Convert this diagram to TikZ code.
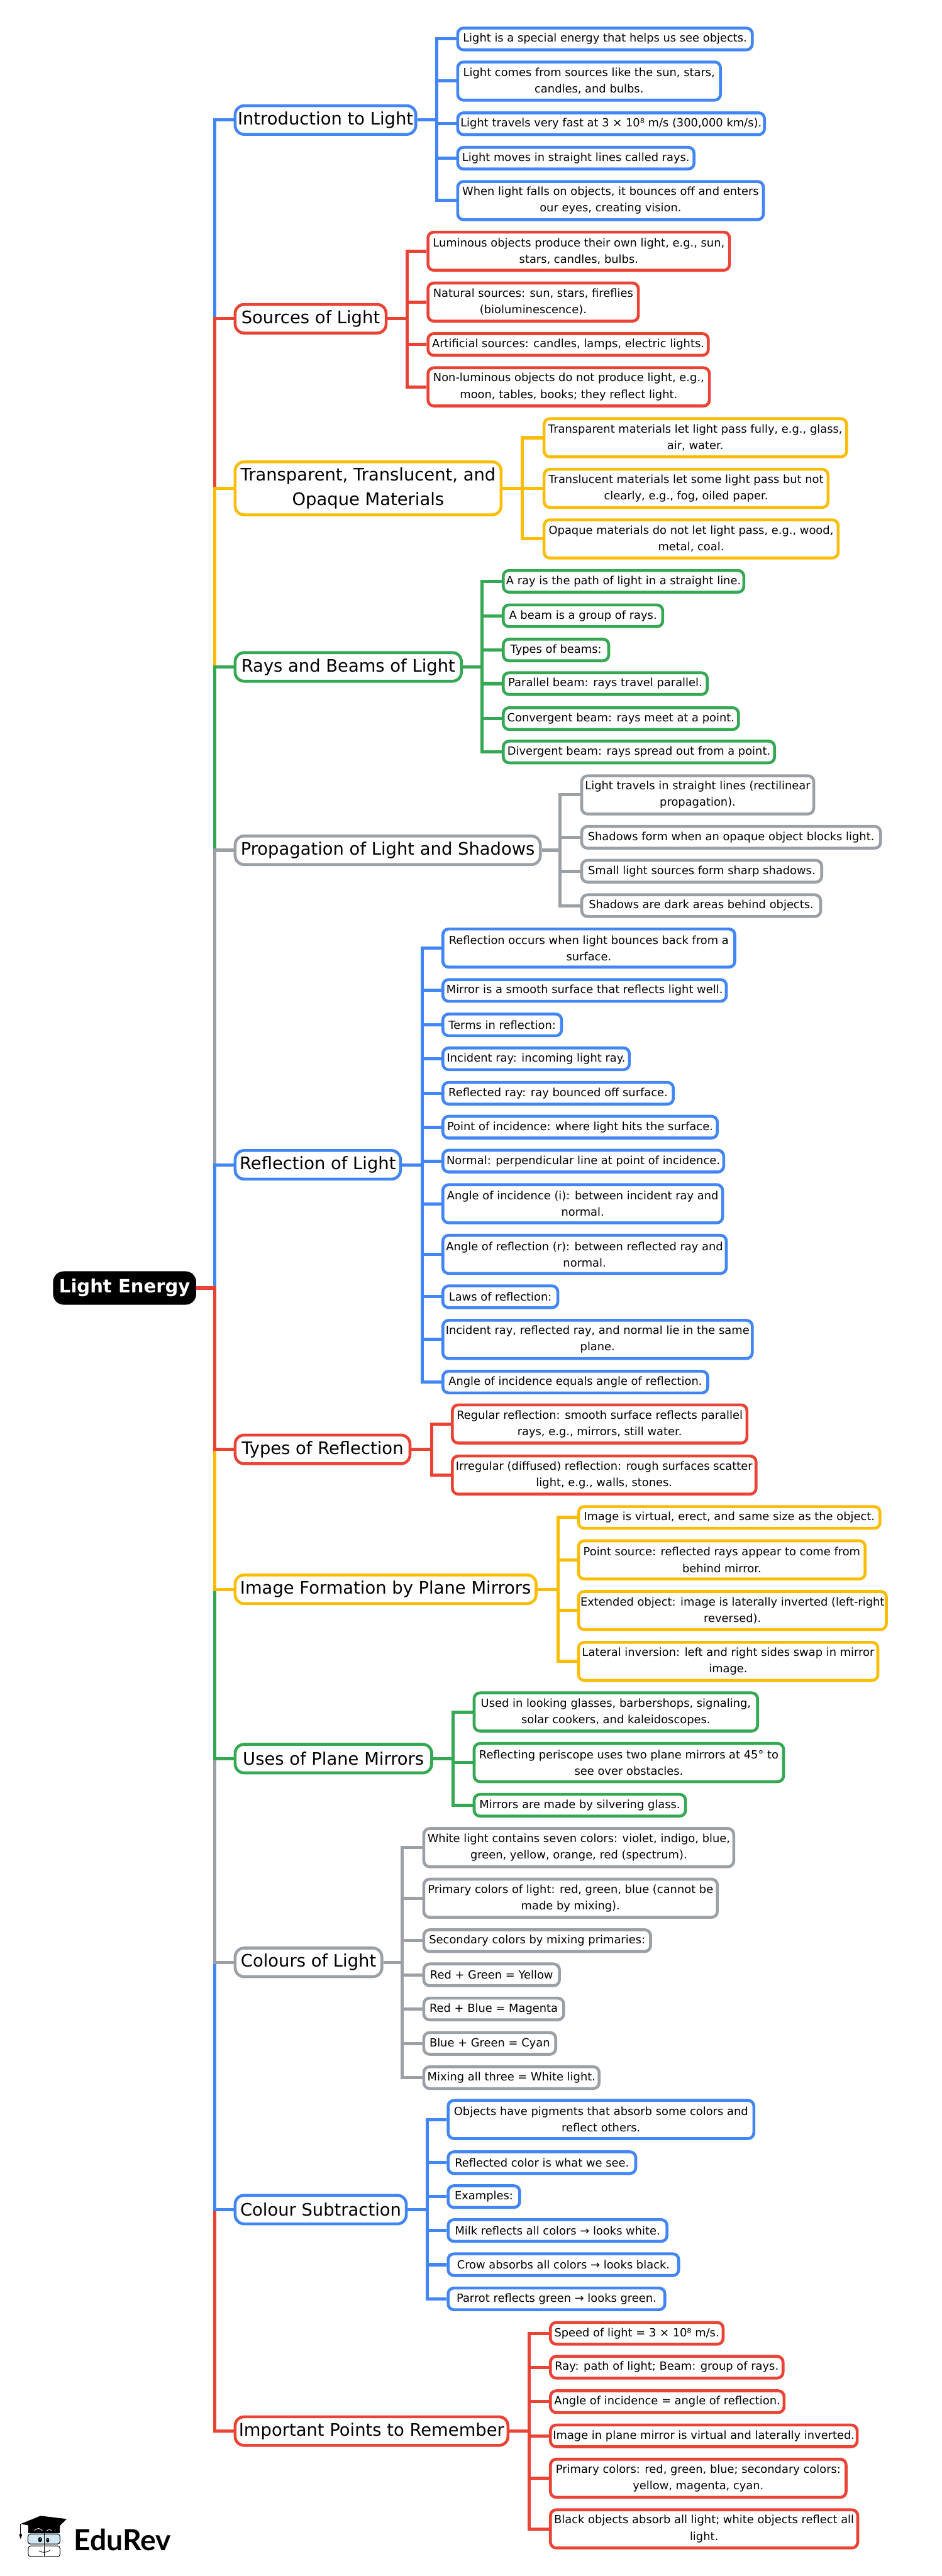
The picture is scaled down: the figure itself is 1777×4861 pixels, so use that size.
\documentclass[tikz,border=0pt]{standalone}
\usepackage{fontspec}
\setmainfont{DejaVu Sans}
\newfontfamily\logofont{Lato}
\usepackage{xcolor}
\usepackage{tikz}
\definecolor{ruleblue}{HTML}{4285F4}
\definecolor{rulered}{HTML}{EA4335}
\definecolor{ruleyellow}{HTML}{FBBC04}
\definecolor{rulegreen}{HTML}{34A853}
\definecolor{rulegray}{HTML}{9AA0A6}
\definecolor{glassblue}{HTML}{CFE6F5}
\newcommand{\leaffont}{\fontsize{21.2}{31}\selectfont}
\newcommand{\branchfont}{\fontsize{32.5}{46.5}\selectfont}
\tikzset{
  leaf/.style={rectangle, anchor=west, draw=#1, fill=white, text=black, line width=5.5pt,
    rounded corners=11pt, inner sep=0pt, align=center, font=\leaffont, minimum height=41pt},
  tall/.style={minimum height=72pt},
  branch/.style={rectangle, anchor=west, draw=#1, fill=white, text=black, line width=5.5pt,
    rounded corners=17pt, inner sep=0pt, align=center, font=\branchfont, minimum height=54pt},
  link/.style={draw=#1, line width=6pt}
}

\begin{document}
\begin{tikzpicture}[x=1pt,y=-1pt]

\useasboundingbox (0,0) rectangle (1777,4861);

\node[rectangle, anchor=west, fill=black, text=white, rounded corners=20pt, inner sep=0pt,
    minimum width=270pt, minimum height=63pt, font=\fontsize{34.5}{40}\selectfont\bfseries] (root) at (100,2430.5) {Light Energy};
\coordinate (trunk) at (405,2430.5);

\node[branch=ruleblue, minimum width=341pt] (intro) at (441,226.5) {Introduction to Light};
\coordinate (introjoin) at (824,226.5);
\node[leaf=ruleblue, minimum width=556pt] (intro1) at (861,73.5) {Light is a special energy that helps us see objects.};
\node[leaf=ruleblue, tall, minimum width=496pt] (intro2) at (861,153) {Light comes from sources like the sun, stars,\\candles, and bulbs.};
\node[leaf=ruleblue, minimum width=579pt] (intro3) at (861,233.5) {Light travels very fast at 3 × 10⁸ m/s (300,000 km/s).};
\node[leaf=ruleblue, minimum width=446pt] (intro4) at (861,298.5) {Light moves in straight lines called rays.};
\node[leaf=ruleblue, tall, minimum width=577pt] (intro5) at (861,378.5) {When light falls on objects, it bounces off and enters\\our eyes, creating vision.};
\draw[link=ruleblue] (intro.east) -- (introjoin) (introjoin) |- (intro1.west) (introjoin) |- (intro2.west)
    (introjoin) |- (intro3.west) (introjoin) |- (intro4.west) (introjoin) |- (intro5.west);

\node[branch=rulered, minimum width=285pt] (src) at (441,601.5) {Sources of Light};
\coordinate (srcjoin) at (768,601.5);
\node[leaf=rulered, tall, minimum width=569pt] (src1) at (805,474) {Luminous objects produce their own light, e.g., sun,\\stars, candles, bulbs.};
\node[leaf=rulered, tall, minimum width=397pt] (src2) at (805,570) {Natural sources: sun, stars, fireflies\\(bioluminescence).};
\node[leaf=rulered, minimum width=529pt] (src3) at (805,650) {Artificial sources: candles, lamps, electric lights.};
\node[leaf=rulered, tall, minimum width=531pt] (src4) at (805,730) {Non-luminous objects do not produce light, e.g.,\\moon, tables, books; they reflect light.};
\draw[link=rulered] (src.east) -- (srcjoin) (srcjoin) |- (src1.west) (srcjoin) |- (src2.west)
    (srcjoin) |- (src3.west) (srcjoin) |- (src4.west);

\node[branch=ruleyellow, minimum width=502pt, minimum height=100pt] (mat) at (441,921.5) {Transparent, Translucent, and\\Opaque Materials};
\coordinate (matjoin) at (986,921.5);
\node[leaf=ruleyellow, tall, minimum width=571pt] (mat1) at (1024,826) {Transparent materials let light pass fully, e.g., glass,\\air, water.};
\node[leaf=ruleyellow, tall, minimum width=536pt] (mat2) at (1024,921.5) {Translucent materials let some light pass but not\\clearly, e.g., fog, oiled paper.};
\node[leaf=ruleyellow, tall, minimum width=555pt] (mat3) at (1024,1017) {Opaque materials do not let light pass, e.g., wood,\\metal, coal.};
\draw[link=ruleyellow] (mat.east) -- (matjoin) (matjoin) |- (mat1.west) (matjoin) |- (mat2.west) (matjoin) |- (mat3.west);

\node[branch=rulegreen, minimum width=427pt] (rays) at (441,1258.5) {Rays and Beams of Light};
\coordinate (raysjoin) at (910,1258.5);
\node[leaf=rulegreen, minimum width=454pt] (rays1) at (947,1097) {A ray is the path of light in a straight line.};
\node[leaf=rulegreen, minimum width=301pt] (rays2) at (947,1162) {A beam is a group of rays.};
\node[leaf=rulegreen, minimum width=199pt] (rays3) at (947,1226.5) {Types of beams:};
\node[leaf=rulegreen, minimum width=385pt] (rays4) at (947,1290) {Parallel beam: rays travel parallel.};
\node[leaf=rulegreen, minimum width=444pt] (rays5) at (947,1356) {Convergent beam: rays meet at a point.};
\node[leaf=rulegreen, minimum width=512pt] (rays6) at (947,1419) {Divergent beam: rays spread out from a point.};
\draw[link=rulegreen] (rays.east) -- (raysjoin) (raysjoin) |- (rays1.west) (raysjoin) |- (rays2.west)
    (raysjoin) |- (rays3.west) (raysjoin) |- (rays4.west) (raysjoin) |- (rays5.west) (raysjoin) |- (rays6.west);

\node[branch=rulegray, minimum width=576pt] (prop) at (441,1604.5) {Propagation of Light and Shadows};
\coordinate (propjoin) at (1057,1604.5);
\node[leaf=rulegray, tall, minimum width=438pt] (prop1) at (1095,1500) {Light travels in straight lines (rectilinear\\propagation).};
\node[leaf=rulegray, minimum width=564pt] (prop2) at (1095,1580) {Shadows form when an opaque object blocks light.};
\node[leaf=rulegray, minimum width=453pt] (prop3) at (1095,1644) {Small light sources form sharp shadows.};
\node[leaf=rulegray, minimum width=451pt] (prop4) at (1095,1709) {Shadows are dark areas behind objects.};
\draw[link=rulegray] (prop.east) -- (propjoin) (propjoin) |- (prop1.west) (propjoin) |- (prop2.west)
    (propjoin) |- (prop3.west) (propjoin) |- (prop4.west);

\node[branch=ruleblue, minimum width=312pt] (refl) at (441,2198) {Reflection of Light};
\coordinate (refljoin) at (797,2198);
\node[leaf=ruleblue, tall, minimum width=551pt] (refl1) at (833,1789) {Reflection occurs when light bounces back from a\\surface.};
\node[leaf=ruleblue, minimum width=535pt] (refl2) at (833,1869) {Mirror is a smooth surface that reflects light well.};
\node[leaf=ruleblue, minimum width=224pt] (refl3) at (833,1934) {Terms in reflection:};
\node[leaf=ruleblue, minimum width=352pt] (refl4) at (833,1998) {Incident ray: incoming light ray.};
\node[leaf=ruleblue, minimum width=435pt] (refl5) at (833,2063) {Reflected ray: ray bounced off surface.};
\node[leaf=ruleblue, minimum width=518pt] (refl6) at (833,2127) {Point of incidence: where light hits the surface.};
\node[leaf=ruleblue, minimum width=530pt] (refl7) at (833,2191) {Normal: perpendicular line at point of incidence.};
\node[leaf=ruleblue, tall, minimum width=528pt] (refl8) at (833,2271.5) {Angle of incidence (i): between incident ray and\\normal.};
\node[leaf=ruleblue, tall, minimum width=535pt] (refl9) at (833,2367) {Angle of reflection (r): between reflected ray and\\normal.};
\node[leaf=ruleblue, minimum width=217pt] (refl10) at (833,2447) {Laws of reflection:};
\node[leaf=ruleblue, tall, minimum width=584pt] (refl11) at (833,2527.5) {Incident ray, reflected ray, and normal lie in the same\\plane.};
\node[leaf=ruleblue, minimum width=500pt] (refl12) at (833,2608) {Angle of incidence equals angle of reflection.};
\draw[link=ruleblue] (refl.east) -- (refljoin) (refljoin) |- (refl1.west) (refljoin) |- (refl2.west)
    (refljoin) |- (refl3.west) (refljoin) |- (refl4.west) (refljoin) |- (refl5.west) (refljoin) |- (refl6.west)
    (refljoin) |- (refl7.west) (refljoin) |- (refl8.west) (refljoin) |- (refl9.west) (refljoin) |- (refl10.west)
    (refljoin) |- (refl11.west) (refljoin) |- (refl12.west);

\node[branch=rulered, minimum width=330pt] (types) at (441,2735) {Types of Reflection};
\coordinate (typesjoin) at (815,2735);
\node[leaf=rulered, tall, minimum width=556pt] (types1) at (851,2687) {Regular reflection: smooth surface reflects parallel\\rays, e.g., mirrors, still water.};
\node[leaf=rulered, tall, minimum width=573pt] (types2) at (851,2783.5) {Irregular (diffused) reflection: rough surfaces scatter\\light, e.g., walls, stones.};
\draw[link=rulered] (types.east) -- (typesjoin) (typesjoin) |- (types1.west) (typesjoin) |- (types2.west);

\node[branch=ruleyellow, minimum width=568pt] (image) at (441,2999) {Image Formation by Plane Mirrors};
\coordinate (imagejoin) at (1053,2999);
\node[leaf=ruleyellow, minimum width=569pt] (image1) at (1089,2863.5) {Image is virtual, erect, and same size as the object.};
\node[leaf=ruleyellow, tall, minimum width=541pt] (image2) at (1089,2943.5) {Point source: reflected rays appear to come from\\behind mirror.};
\node[leaf=ruleyellow, tall, minimum width=581pt] (image3) at (1089,3039) {Extended object: image is laterally inverted (left-right\\reversed).};
\node[leaf=ruleyellow, tall, minimum width=565pt] (image4) at (1089,3135) {Lateral inversion: left and right sides swap in mirror\\image.};
\draw[link=ruleyellow] (image.east) -- (imagejoin) (imagejoin) |- (image1.west) (imagejoin) |- (image2.west)
    (imagejoin) |- (image3.west) (imagejoin) |- (image4.west);

\node[branch=rulegreen, minimum width=371pt] (uses) at (441,3318.5) {Uses of Plane Mirrors};
\coordinate (usesjoin) at (854.5,3318.5);
\node[leaf=rulegreen, tall, minimum width=535pt] (uses1) at (892,3230.5) {Used in looking glasses, barbershops, signaling,\\solar cookers, and kaleidoscopes.};
\node[leaf=rulegreen, tall, minimum width=584pt] (uses2) at (892,3326) {Reflecting periscope uses two plane mirrors at 45° to\\see over obstacles.};
\node[leaf=rulegreen, minimum width=399pt] (uses3) at (892,3406.5) {Mirrors are made by silvering glass.};
\draw[link=rulegreen] (uses.east) -- (usesjoin) (usesjoin) |- (uses1.west) (usesjoin) |- (uses2.west) (usesjoin) |- (uses3.west);

\node[branch=rulegray, minimum width=277pt] (col) at (441,3703) {Colours of Light};
\coordinate (coljoin) at (759,3703);
\node[leaf=rulegray, tall, minimum width=585pt] (col1) at (797,3486.5) {White light contains seven colors: violet, indigo, blue,\\green, yellow, orange, red (spectrum).};
\node[leaf=rulegray, tall, minimum width=554pt] (col2) at (797,3582) {Primary colors of light: red, green, blue (cannot be\\made by mixing).};
\node[leaf=rulegray, minimum width=428pt] (col3) at (797,3662) {Secondary colors by mixing primaries:};
\node[leaf=rulegray, minimum width=256pt] (col4) at (797,3726.5) {Red + Green = Yellow};
\node[leaf=rulegray, minimum width=264pt] (col5) at (797,3791) {Red + Blue = Magenta};
\node[leaf=rulegray, minimum width=249pt] (col6) at (797,3856) {Blue + Green = Cyan};
\node[leaf=rulegray, minimum width=331pt] (col7) at (797,3920.5) {Mixing all three = White light.};
\draw[link=rulegray] (col.east) -- (coljoin) (coljoin) |- (col1.west) (coljoin) |- (col2.west) (coljoin) |- (col3.west)
    (coljoin) |- (col4.west) (coljoin) |- (col5.west) (coljoin) |- (col6.west) (coljoin) |- (col7.west);

\node[branch=ruleblue, minimum width=323pt] (sub) at (441,4169.5) {Colour Subtraction};
\coordinate (subjoin) at (806,4169.5);
\node[leaf=ruleblue, tall, minimum width=577pt] (sub1) at (843,3999.5) {Objects have pigments that absorb some colors and\\reflect others.};
\node[leaf=ruleblue, minimum width=354pt] (sub2) at (843,4081) {Reflected color is what we see.};
\node[leaf=ruleblue, minimum width=135pt] (sub3) at (843,4145) {Examples:};
\node[leaf=ruleblue, minimum width=413pt] (sub4) at (843,4209) {Milk reflects all colors → looks white.};
\node[leaf=ruleblue, minimum width=435pt] (sub5) at (843,4273.5) {Crow absorbs all colors → looks black.};
\node[leaf=ruleblue, minimum width=409pt] (sub6) at (843,4338) {Parrot reflects green → looks green.};
\draw[link=ruleblue] (sub.east) -- (subjoin) (subjoin) |- (sub1.west) (subjoin) |- (sub2.west) (subjoin) |- (sub3.west)
    (subjoin) |- (sub4.west) (subjoin) |- (sub5.west) (subjoin) |- (sub6.west);

\node[branch=rulered, minimum width=515pt] (point) at (441,4587.5) {Important Points to Remember};
\coordinate (pointjoin) at (998.5,4587.5);
\node[leaf=rulered, minimum width=326pt] (point1) at (1036,4403) {Speed of light = 3 × 10⁸ m/s.};
\node[leaf=rulered, minimum width=439pt] (point2) at (1036,4467) {Ray: path of light; Beam: group of rays.};
\node[leaf=rulered, minimum width=441pt] (point3) at (1036,4532) {Angle of incidence = angle of reflection.};
\node[leaf=rulered, minimum width=579pt] (point4) at (1036,4596.5) {Image in plane mirror is virtual and laterally inverted.};
\node[leaf=rulered, tall, minimum width=558pt] (point5) at (1036,4676.5) {Primary colors: red, green, blue; secondary colors:\\yellow, magenta, cyan.};
\node[leaf=rulered, tall, minimum width=580pt] (point6) at (1036,4772) {Black objects absorb all light; white objects reflect all\\light.};
\draw[link=rulered] (point.east) -- (pointjoin) (pointjoin) |- (point1.west) (pointjoin) |- (point2.west) (pointjoin) |- (point3.west)
    (pointjoin) |- (point4.west) (pointjoin) |- (point5.west) (pointjoin) |- (point6.west);

\draw[link=ruleblue] (root.east) -- (trunk) |- (intro.west);
\draw[link=rulered] (root.east) -- (trunk) |- (src.west);
\draw[link=ruleyellow] (root.east) -- (trunk) |- (mat.west);
\draw[link=rulegreen] (root.east) -- (trunk) |- (rays.west);
\draw[link=rulegray] (root.east) -- (trunk) |- (prop.west);
\draw[link=ruleblue] (root.east) -- (trunk) |- (refl.west);
\draw[link=rulered] (root.east) -- (trunk) |- (point.west);
\draw[link=ruleblue] (root.east) -- (trunk) |- (sub.west);
\draw[link=rulegray] (root.east) -- (trunk) |- (col.west);
\draw[link=rulegreen] (root.east) -- (trunk) |- (uses.west);
\draw[link=ruleyellow] (root.east) -- (trunk) |- (image.west);
\draw[link=rulered] (root.east) -- (trunk) |- (types.west);

\node[anchor=base west, inner sep=0pt, font=\fontsize{55}{60}\selectfont\logofont\bfseries] (logotext) at (139,4813) {EduRev};

\begin{scope}[shift={(20,4730)}, x=0.3333pt, y=-0.3333pt]
 \fill[black] (100,105) -- (100,150) -- (278,150) -- (280,100) -- cycle;
 \fill[black] (57,98) -- (170,52) -- (318,70) -- (250,135) -- cycle;
 \draw[black, line width=1.2pt] (57,98) -- (57,152);
 \fill[black] (57,150) -- (49,160) -- (57,184) -- (65,160) -- cycle;
 \draw[white, line width=1pt] (135,136) .. controls (150,120) and (168,120) .. (180,137);
 \draw[white, line width=1pt] (205,136) .. controls (212,128) and (222,128) .. (232,136);
 \draw[black, fill=glassblue, line width=1.2pt, rounded corners=5pt] (98,155) rectangle (280,212);
 \draw[black, line width=1.2pt, rounded corners=5pt] (185,284) -- (100,284) -- (100,222) -- (185,222);
 \draw[black, line width=1.2pt, rounded corners=5pt] (197,284) -- (280,284) -- (280,222) -- (197,222);
 \draw[black, line width=1.6pt] (191,145) -- (191,287);
 \fill[black] (167,187) ellipse (11 and 15);
 \fill[black] (210,190) ellipse (9 and 13);
 \fill[white] (168,183) circle (3);
 \fill[white] (211,186) circle (3);
 \fill[white] (138,185) circle (5);
 \fill[white] (242,185) circle (5);
 \draw[black, line width=1pt] (160,250) .. controls (175,262) and (205,262) .. (222,248);
\end{scope}

\end{tikzpicture}
\end{document}
